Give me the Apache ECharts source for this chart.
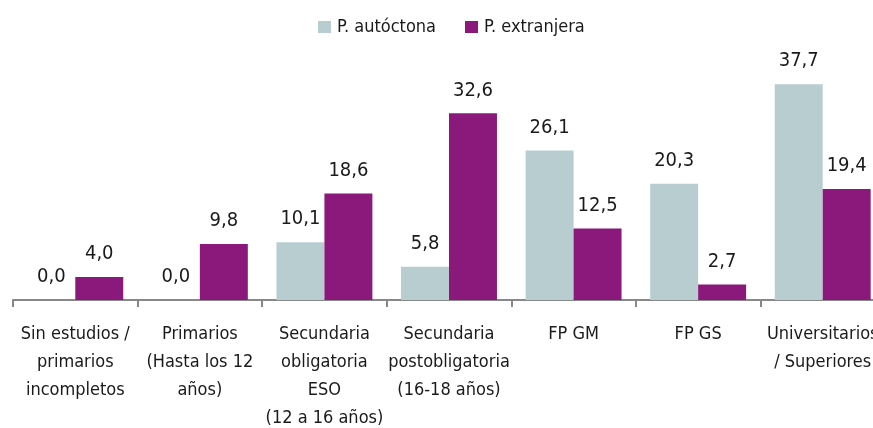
<!DOCTYPE html>
<html><head><meta charset="utf-8">
<script src="https://cdn.jsdelivr.net/npm/echarts@6/dist/echarts.min.js"></script>
<style>html,body{margin:0;padding:0;background:#fff}#c{width:873px;height:428px}</style>
</head><body><div id="c"></div>
<script>
const categories = [
  "Sin estudios /\nprimarios\nincompletos",
  "Primarios\n(Hasta los 12\naños)",
  "Secundaria\nobligatoria\nESO\n(12 a 16 años)",
  "Secundaria\npostobligatoria\n(16-18 años)",
  "FP GM",
  "FP GS",
  "Universitarios\n/ Superiores"
];
const seriesNames = ["P. autóctona", "P. extranjera"];
const autoctona = [0.0, 0.0, 10.1, 5.8, 26.1, 20.3, 37.7];
const extranjera = [4.0, 9.8, 18.6, 32.6, 12.5, 2.7, 19.4];

const FONT = '"Liberation Sans Narrow", "DejaVu Sans Condensed", sans-serif';
const chart = echarts.init(document.getElementById('c'), null, {renderer: 'canvas'});
const fmt = p => p.value.toFixed(1).replace('.', ',');
const labelCfg = {show: true, position: 'top', distance: 13, formatter: fmt, color: '#1a1a1a', fontFamily: FONT, fontSize: 20};
chart.setOption({
  animation: false,
  legend: {
    top: 13, left: 313, itemWidth: 13, itemHeight: 12, itemGap: 29,
    icon: 'rect',
    textStyle: {fontFamily: FONT, fontSize: 18, color: '#1a1a1a', padding: [0, 0, 0, 1]},
    data: seriesNames
  },
  grid: {left: 13, width: 872, top: 71, bottom: 128, containLabel: false, outerBoundsMode: 'none'},
  xAxis: {
    type: 'category', data: categories,
    axisLine: {lineStyle: {color: '#888', width: 2}},
    axisTick: {show: true, length: 7, lineStyle: {color: '#888', width: 2}},
    axisLabel: {interval: 0, fontFamily: FONT, fontSize: 18, lineHeight: 28, color: '#1a1a1a', margin: 20}
  },
  yAxis: {type: 'value', min: 0, max: 40, show: false, splitLine: {show: false}},
  series: [
    {name: seriesNames[0], type: 'bar', data: autoctona, barWidth: '38.5%', barGap: '0%',
     itemStyle: {color: '#B8CDD0'}, label: labelCfg},
    {name: seriesNames[1], type: 'bar', data: extranjera, barWidth: '38.5%', barGap: '0%',
     itemStyle: {color: '#8B187B'}, label: labelCfg}
  ]
});
</script></body></html>
